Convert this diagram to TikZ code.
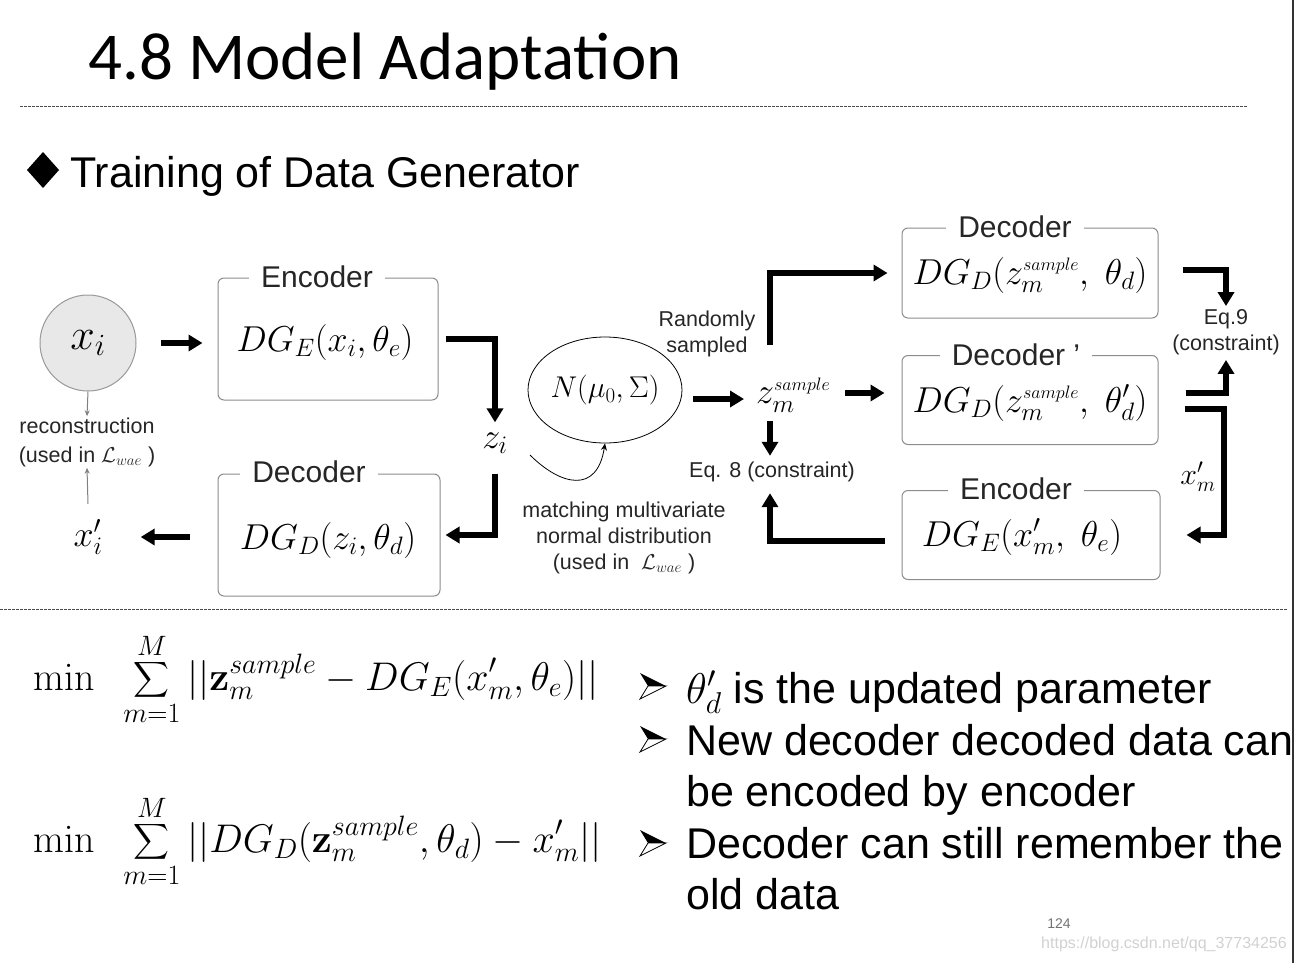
\RequirePackage{fix-cm}
\documentclass[tikz,border=0pt]{standalone}
\usepackage{exscale}
\usepackage[no-math]{fontspec}
\setmainfont{Liberation Sans}
\newfontfamily\titlefont{Carlito}
\usetikzlibrary{arrows.meta,shapes.geometric,calc}
\tikzset{
  box/.style={draw=black!45, line width=1pt, rounded corners=6pt, fill=white, inner sep=0pt},
  boxlabel/.style={fill=white, inner xsep=12pt, inner ysep=2pt, text=black!85, font=\fontsize{30}{32}\selectfont},
  dmath/.style={inner sep=1pt, font=\fontsize{36}{38}\selectfont},
  small/.style={text=black!85, font=\fontsize{21.5}{26}\selectfont, align=center, inner sep=1pt},
  big/.style={line width=6pt, line join=miter, -{Triangle[length=14pt,width=16pt]}},
  thinarr/.style={draw=black!50, line width=1pt, -{Stealth[length=6pt,width=5pt]}},
  sep/.style={black!70, line width=0.8pt, dash pattern=on 2.5pt off 1.5pt},
  bline/.style={anchor=base west, inner sep=0pt, font=\fontsize{43}{48}\selectfont},
}
\begin{document}
\begin{tikzpicture}[x=1pt,y=-1pt]
\useasboundingbox (0,0) rectangle (1295,963);
% title
\node[anchor=base west, inner sep=0pt, font=\titlefont\fontsize{67}{70}\selectfont] (title) at (88,80) {4.8 Model Adaptation};
\draw[sep] (20,106) -- (1248,106);
\fill (43,152) -- (59,170) -- (43,188) -- (27,170) -- cycle;
\node[anchor=base west, inner sep=0pt, font=\fontsize{43}{48}\selectfont] (sub) at (70,187) {Training of Data Generator};
\draw[black!80, line width=1.5pt] (1293,0) -- (1293,963);

% left part
\node[circle, draw=black!40, line width=1pt, fill=black!9, minimum size=96pt, inner sep=0pt, font=\fontsize{44}{44}\selectfont] (xi) at (88,343) {$x_i$};
\node[box, minimum width=220pt, minimum height=122pt] (enc1) at (328,339) {};
\node[boxlabel] (enc1l) at (317,277) {Encoder};
\node[dmath] (enc1c) at (325,342) {$DG_E(x_i,\theta_e)$};
\node[box, minimum width=222pt, minimum height=122pt] (dec1) at (329,535) {};
\node[boxlabel] (dec1l) at (309,472) {Decoder};
\node[dmath] (dec1c) at (328,540) {$DG_D(z_i,\theta_d)$};
\node[dmath, inner sep=0pt] (zi) at (495,443) {$z_i$};
\node[dmath, inner sep=0pt] (xpi) at (88,537) {$x'_i$};
\node[small, font=\fontsize{21.5}{29}\selectfont] (recon) at (87,442) {reconstruction\\(used in $\mathcal{L}_{wae}$ )};

\draw[big] ([xshift=24]xi.east) -- ([xshift=-15]enc1.west |- xi.east);
\draw[big] ([xshift=7]enc1.east) -| ([yshift=10]zi.north);
\draw[big] ([yshift=-20]zi.south) |- ([xshift=5]dec1.east);
\draw[big] ([xshift=-28,yshift=-2]dec1.west) -- ([xshift=38]xpi.east);
\draw[thinarr] (xi.south) -- (recon.north);
\draw[thinarr] ([yshift=15]xpi.north) -- (recon.south);

% middle
\node[ellipse, draw, line width=0.8pt, minimum width=154pt, minimum height=106pt, inner sep=0pt, font=\fontsize{30}{30}\selectfont] (N) at (605,390) {$N(\mu_0,\Sigma)$};
\coordinate (cstart) at (530,455);
\draw[line width=0.8pt, -{Stealth[length=7pt,width=6pt]}] (cstart) .. controls (560,485) and (597,495) .. (N.south);
\node[small] (match) at (624,538) {matching multivariate\\normal distribution\\(used in $\;\mathcal{L}_{wae}$ )};
\node[small] (rand) at (707,334) {Randomly\\sampled};
\node[dmath, anchor=west] (zm) at (755,395) {$z_m^{\scriptscriptstyle sample}$};
\node[small] (eq8) at (772,472) {Eq. 8 (constraint)};

% right boxes
\node[box, minimum width=256pt, minimum height=90pt] (dec1r) at (1030,273) {};
\node[boxlabel] (dec1rl) at (1015,227) {Decoder};
\node[dmath] (dec1rc) at (1030,275) {$DG_D(z_m^{\scriptscriptstyle sample},\;\theta_d)$};
\node[box, minimum width=256pt, minimum height=89pt] (dec2) at (1030,400) {};
\node[boxlabel] (dec2l) at (1016,355) {Decoder '};
\node[dmath] (dec2c) at (1030,403) {$DG_D(z_m^{\scriptscriptstyle sample},\;\theta'_d)$};
\node[box, minimum width=258pt, minimum height=89pt] (enc2) at (1031,535) {};
\node[boxlabel] (enc2l) at (1016,489) {Encoder};
\node[dmath] (enc2c) at (1022,537) {$DG_E(x'_m,\;\theta_e)$};
\node[small] (eq9) at (1226,332) {Eq.9\\(constraint)};
\node[dmath, font=\fontsize{30}{30}\selectfont] (xm) at (1198,477) {$x'_m$};
\coordinate (rc) at (1224,535);
\coordinate (nz) at (693,399);
\coordinate (zd) at (845,393);

\draw[big] (nz) -- ([xshift=-11]zm.west |- nz);
\draw[big] (zd) -- ([xshift=-17]dec2.west |- zd);
\draw[big] ($(zm.west)+(15,-50)$) |- ([xshift=-14]dec1r.west);
\draw[big] ([xshift=15,yshift=-8]zm.south west) -- ([yshift=5]eq8.north -| {$(zm.west)+(15,0)$});
\draw[big] ([xshift=-17,yshift=-6]enc2.west) -| ([yshift=-10]eq8.south -| {$(zm.west)+(15,0)$});
\draw[big] ([xshift=24,yshift=3]dec1r.east) -| ([yshift=2]eq9.north);
\draw[big] ([xshift=27,yshift=7]dec2.east) -| ([yshift=-4]eq9.south);
\draw[big] ([xshift=26,yshift=-9]dec2.east) -| (rc) -- ([xshift=26]enc2.east);

% lower separator
\draw[sep] (0,609) -- (1288,609);

% equations
\node[anchor=base west, inner sep=0pt, font=\fontsize{40}{42}\selectfont] (e1) at (33,690) {$\displaystyle \min\;\;\sum_{m=1}^{M}||\mathbf{z}_m^{sample}-DG_E(x'_m,\theta_e)||$};
\node[anchor=base west, inner sep=0pt, font=\fontsize{40}{42}\selectfont] (e2) at (33,852) {$\displaystyle \min\;\;\sum_{m=1}^{M}||DG_D(\mathbf{z}_m^{sample},\theta_d)-x'_m||$};

% bullets
\foreach \yy in {686,739,843}{
  \fill[black] (640,\yy-13) -- (666,\yy) -- (648,\yy) -- cycle;
  \draw[black, line width=0.8pt, fill=white] (648,\yy) -- (666,\yy) -- (640,\yy+13) -- cycle;
}
\node[bline] (b1) at (686,703) {$\theta'_d$ is the updated parameter};
\node[bline] (b2) at (686,755) {New decoder decoded data can};
\node[bline] (b3) at (686,806) {be encoded by encoder};
\node[bline] (b4) at (686,858) {Decoder can still remember the};
\node[bline] (b5) at (686,909) {old data};

\node[text=black!55, font=\fontsize{14}{14}\selectfont] (pg) at (1059,924) {124};
\node[text=black!18, font=\fontsize{16}{16}\selectfont] (wm) at (1164,944) {https://blog.csdn.net/qq\_37734256};
\end{tikzpicture}
\end{document}
